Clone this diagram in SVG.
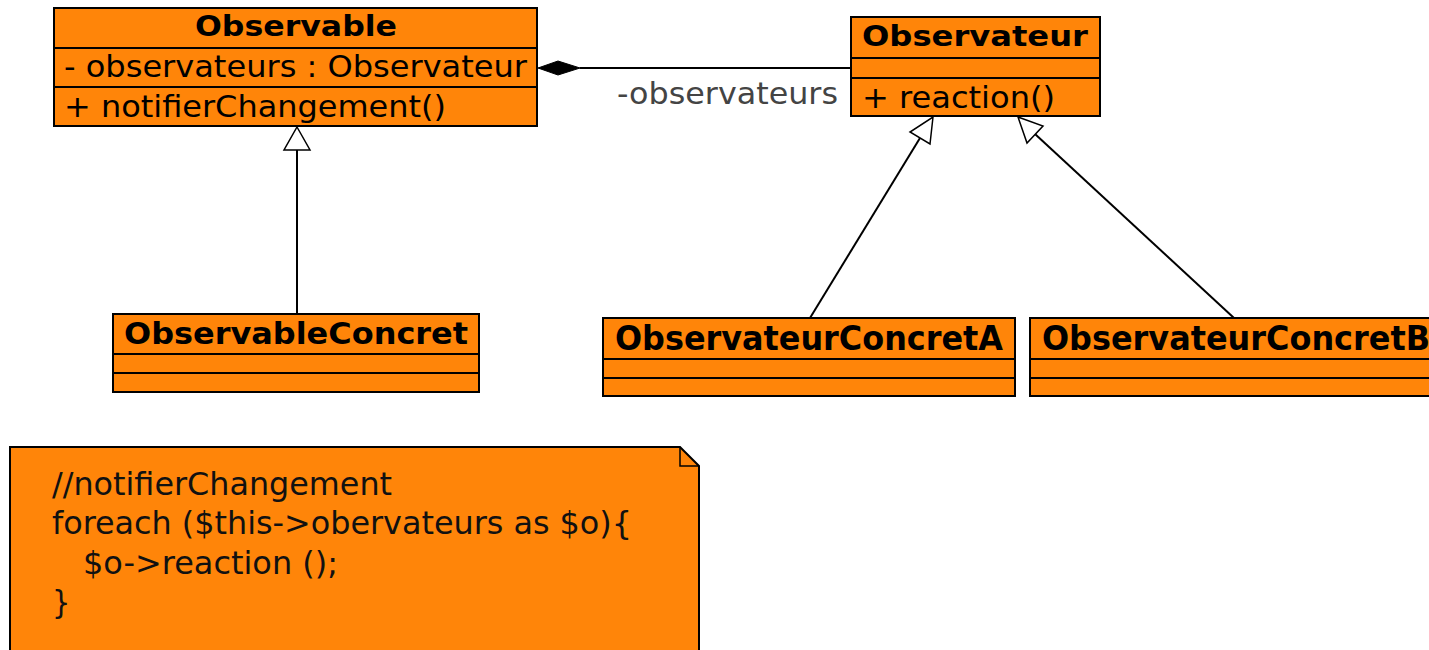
<svg xmlns="http://www.w3.org/2000/svg" width="1429" height="650" viewBox="0 0 1429 650">
<defs>
<style>
.box{fill:#ff8509;stroke:#000;stroke-width:2}
.sep{stroke:#000;stroke-width:2}
.t{font-family:"DejaVu Sans",sans-serif;font-size:30px;fill:#000}
.b{font-family:"DejaVu Sans",sans-serif;font-size:29px;font-weight:bold;fill:#000}
.bc{font-family:"DejaVu Sans Condensed","DejaVu Sans",sans-serif;font-size:34px;font-weight:bold;fill:#000}
.lbl{font-family:"DejaVu Sans",sans-serif;font-size:30px;fill:#444}
.note{font-family:"DejaVu Sans Condensed","DejaVu Sans",sans-serif;font-size:32px;fill:#111}
.line{stroke:#000;stroke-width:2;fill:none}
.tri{fill:#fff;stroke:#000;stroke-width:1.5}
</style>
</defs>
<g id="connectors">
<line class="line" x1="580" y1="68" x2="851" y2="68"/>
<polygon points="538,68 558,61 580,68 558,75" fill="#000" stroke="#000" stroke-width="1"/>
<text class="lbl" x="617" y="104" textLength="221" lengthAdjust="spacingAndGlyphs">-observateurs</text>
<line class="line" x1="297" y1="313" x2="297" y2="150"/>
<polygon class="tri" points="297,127 310,150 284,150"/>
<line class="line" x1="810" y1="318" x2="920" y2="138"/>
<polygon class="tri" points="933,117 930,144 910,132"/>
<line class="line" x1="1234" y1="318" x2="1035" y2="134"/>
<polygon class="tri" points="1018,117 1043,126 1027,143"/>
</g>
<g id="observable">
<rect class="box" x="54" y="8" width="483" height="118"/>
<line class="sep" x1="54" y1="48" x2="537" y2="48"/>
<line class="sep" x1="54" y1="87" x2="537" y2="87"/>
<text class="b" x="195" y="36" textLength="202" lengthAdjust="spacingAndGlyphs">Observable</text>
<text class="t" x="64" y="77" textLength="463" lengthAdjust="spacingAndGlyphs">- observateurs : Observateur</text>
<text class="t" x="64" y="117" textLength="382" lengthAdjust="spacingAndGlyphs">+ notifierChangement()</text>
</g>
<g id="observateur">
<rect class="box" x="851" y="17" width="249" height="99"/>
<line class="sep" x1="851" y1="58" x2="1100" y2="58"/>
<line class="sep" x1="851" y1="78" x2="1100" y2="78"/>
<text class="b" x="862" y="46" textLength="226" lengthAdjust="spacingAndGlyphs">Observateur</text>
<text class="t" x="862" y="108" textLength="193" lengthAdjust="spacingAndGlyphs">+ reaction()</text>
</g>
<g id="observableConcret">
<rect class="box" x="113" y="314" width="366" height="78"/>
<line class="sep" x1="113" y1="354" x2="479" y2="354"/>
<line class="sep" x1="113" y1="373" x2="479" y2="373"/>
<text class="b" x="124" y="344" style="font-size:30px" textLength="344" lengthAdjust="spacingAndGlyphs">ObservableConcret</text>
</g>
<g id="observateurConcretA">
<rect class="box" x="603" y="318" width="412" height="78"/>
<line class="sep" x1="603" y1="359" x2="1015" y2="359"/>
<line class="sep" x1="603" y1="378" x2="1015" y2="378"/>
<text class="bc" x="615" y="350" textLength="388" lengthAdjust="spacingAndGlyphs">ObservateurConcretA</text>
</g>
<g id="observateurConcretB">
<rect class="box" x="1030" y="318" width="412" height="78"/>
<line class="sep" x1="1030" y1="359" x2="1442" y2="359"/>
<line class="sep" x1="1030" y1="378" x2="1442" y2="378"/>
<text class="bc" x="1042" y="350" textLength="388" lengthAdjust="spacingAndGlyphs">ObservateurConcretB</text>
</g>
<g id="note">
<polygon class="box" points="10,447 680,447 699,466 699,660 10,660"/>
<polyline class="line" points="680,447 680,466 699,466" style="stroke-width:1.5"/>
<text class="note" x="52" y="495" textLength="340" lengthAdjust="spacingAndGlyphs">//notifierChangement</text>
<text class="note" x="52" y="534" textLength="580" lengthAdjust="spacingAndGlyphs">foreach ($this-&gt;obervateurs as $o){</text>
<text class="note" x="83" y="574" textLength="255" lengthAdjust="spacingAndGlyphs">$o-&gt;reaction ();</text>
<text class="note" x="52" y="613">}</text>
</g>
</svg>
